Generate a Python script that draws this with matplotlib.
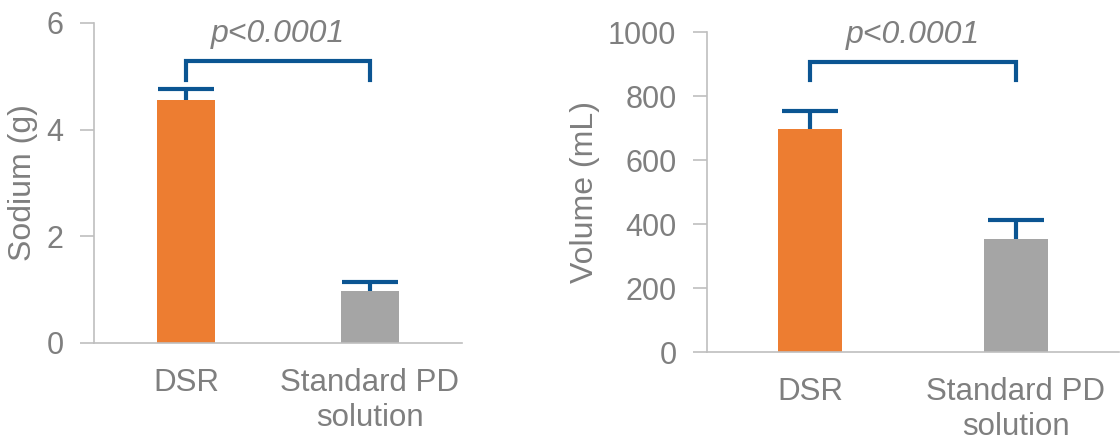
import matplotlib.pyplot as plt

plt.rcParams["font.family"] = ["Liberation Sans", "DejaVu Sans"]

categories = ["DSR", "Standard PD\nsolution"]
sodium = [4.55, 0.97]
sodium_err = [0.21, 0.18]
volume = [697, 353]
volume_err = [56, 58]
p_label = "p<0.0001"

bar_colors = ["#ED7D31", "#A5A5A5"]
err_color = "#0B5592"
text_gray = "#7F7F7F"
axis_gray = "#BFBFBF"

fig = plt.figure(figsize=(11.2, 4.43), dpi=100)
ax1 = fig.add_axes([94 / 1120, 100 / 443, 368 / 1120, 320 / 443])
ax2 = fig.add_axes([707 / 1120, 91 / 443, 412 / 1120, 320 / 443])


def draw(ax, values, errs, ylim, yticks, ylabel, bracket_y, bracket_drop, p_y, ylabelpad):
    x = range(len(categories))
    ax.bar(x, values, width=0.315, color=bar_colors, zorder=2)
    _, caps, _ = ax.errorbar(x, values, yerr=[[0] * len(errs), errs], fmt="none",
                             ecolor=err_color, elinewidth=3, capsize=20.5, capthick=3, zorder=3)
    caps[0].set_visible(False)  # upper error only
    ax.set_xlim(-0.5, 1.5)
    ax.set_ylim(*ylim)
    ax.set_yticks(yticks)
    ax.set_xticks(list(x))
    ax.set_xticklabels(categories, fontsize=22.5, color=text_gray, linespacing=1.2)
    ax.tick_params(axis="x", length=0, pad=18)
    ax.tick_params(axis="y", length=10, width=1.2, color=axis_gray,
                   labelsize=22, labelcolor=text_gray, pad=12)
    for s in ["top", "right"]:
        ax.spines[s].set_visible(False)
    for s in ["left", "bottom"]:
        ax.spines[s].set_color(axis_gray)
        ax.spines[s].set_linewidth(1.2)
    ax.set_ylabel(ylabel, fontsize=23, color=text_gray, labelpad=ylabelpad)
    # significance bracket
    ax.plot([0, 0, 1, 1], [bracket_y - bracket_drop, bracket_y, bracket_y, bracket_y - bracket_drop],
            color=err_color, lw=3, clip_on=False, solid_joinstyle="miter", zorder=3)
    ax.text(0.5, p_y, p_label, ha="center", va="center", fontsize=23,
            style="italic", color=text_gray, clip_on=False)


draw(ax1, sodium, sodium_err, (0, 6), [0, 2, 4, 6], "Sodium (g)", 5.28, 0.34, 5.8, 6)
draw(ax2, volume, volume_err, (0, 1000), [0, 200, 400, 600, 800, 1000], "Volume (mL)", 906, 56, 992, 6)

fig.savefig("out.png", dpi=100)
